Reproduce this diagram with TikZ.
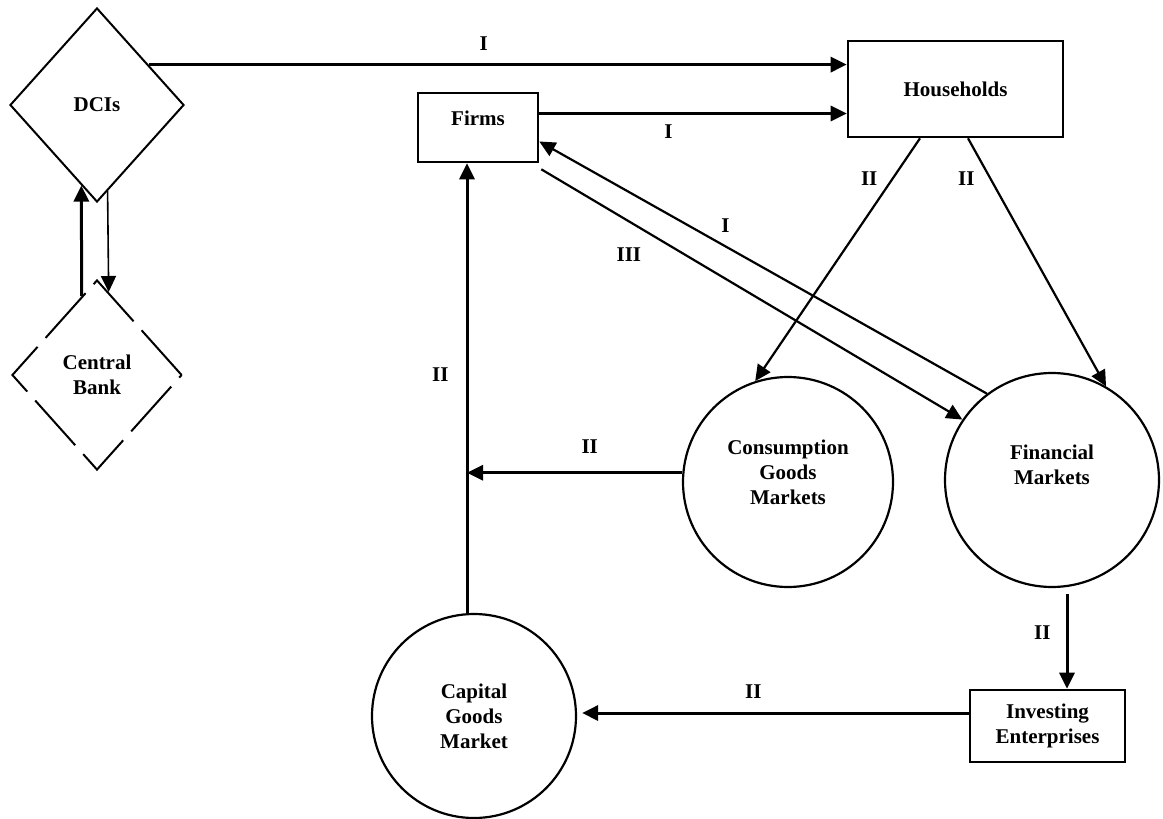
\documentclass[tikz,border=0pt]{standalone}
\usepackage{fontspec}
\setmainfont{Liberation Serif}
\usetikzlibrary{arrows.meta, positioning, shapes.geometric}

\begin{document}
\begin{tikzpicture}[
    x=0.5pt, y=-0.5pt,
    every node/.style={font=\bfseries\fontsize{10.5}{12.5}\selectfont},
    block/.style={rectangle, draw, line width=1.3pt, align=center},
    market/.style={circle, draw, line width=1.1pt, align=center, inner sep=0pt},
    bank/.style={diamond, draw, line width=1pt, align=center, inner sep=1pt},
    flow/.style={-{Triangle[length=8pt,width=7.5pt]}, line width=1.5pt},
    thinflow/.style={-{Triangle[length=8pt,width=7.5pt]}, line width=1.1pt},
    tag/.style={inner sep=0pt}
]
\useasboundingbox (0,0) rectangle (1163,819);

% NODES
\node[bank, minimum width=87pt, minimum height=97pt] (dci) at (97,105) {DCIs};
\node[bank, dash pattern=on 30pt off 6pt, minimum width=85pt, minimum height=95pt] (cb) at (97,375) {Central\\Bank};

\node[block, minimum width=60pt, minimum height=34.5pt, text depth=9.5pt] (firms) at (478,127.5) {Firms};
\node[block, minimum width=107.5pt, minimum height=48pt] (hh) at (955.5,89) {Households};

\node[market, minimum size=105pt, text depth=10pt] (cgm) at (788,482) {Consumption\\Goods\\Markets};
\node[market, minimum size=107pt, text depth=15pt] (fm) at (1052,480) {Financial\\Markets};
\node[market, minimum size=102pt] (kgm) at (474,716) {Capital\\Goods\\Market};

\node[block, minimum width=77.5pt, minimum height=36pt] (ie) at (1047.5,726) {Investing\\Enterprises};

\coordinate (rise) at ([xshift=-3.5pt]kgm.north);

% ARROWS
\draw[flow] (cb.101) -- (dci.259);
\draw[thinflow, line width=0.8pt] (dci.277) -- (cb.82);

\draw[flow] (dci.38) -- (dci.38 -| hh.west) node[tag, pos=0.48, above=6.5pt] {I};
\draw[flow] ([yshift=7pt]firms.east) -- ([yshift=7pt]firms.east -| hh.west) node[tag, pos=0.42, below=5pt] {I};

\draw[thinflow] ([xshift=-17.75pt]hh.south) -- (cgm.108) node[tag, pos=0.167, left=7pt] {II};
\draw[thinflow] ([xshift=6.25pt]hh.south) -- (fm.60) node[tag, pos=0.164, left=7.5pt] {II};

\draw[thinflow] (fm.127) -- ([yshift=-7pt]firms.east) node[tag, pos=0.584, above=6.5pt] {I};
\draw[thinflow] ([shift={(1pt,-3pt)}]firms.south east) -- (fm.146) node[tag, pos=0.208, below=12.8pt] {III};

\draw[flow] (rise) -- (rise |- firms.south) node[tag, pos=0.529, left=8.5pt] {II};
\draw[flow] (cgm.175) -- (cgm.175 -| rise) node[tag, pos=0.43, above=9pt] {II};

\draw[flow] ([shift={(7.5pt,-3pt)}]fm.south) -- ([xshift=7.5pt]fm.south |- ie.north) node[tag, pos=0.41, left=7.5pt] {II};
\draw[flow, shorten >=2.5pt] ([yshift=6.5pt]ie.west) -- ([yshift=6.5pt]ie.west -| kgm.east) node[tag, pos=0.55, above=6.5pt] {II};

\end{tikzpicture}
\end{document}
